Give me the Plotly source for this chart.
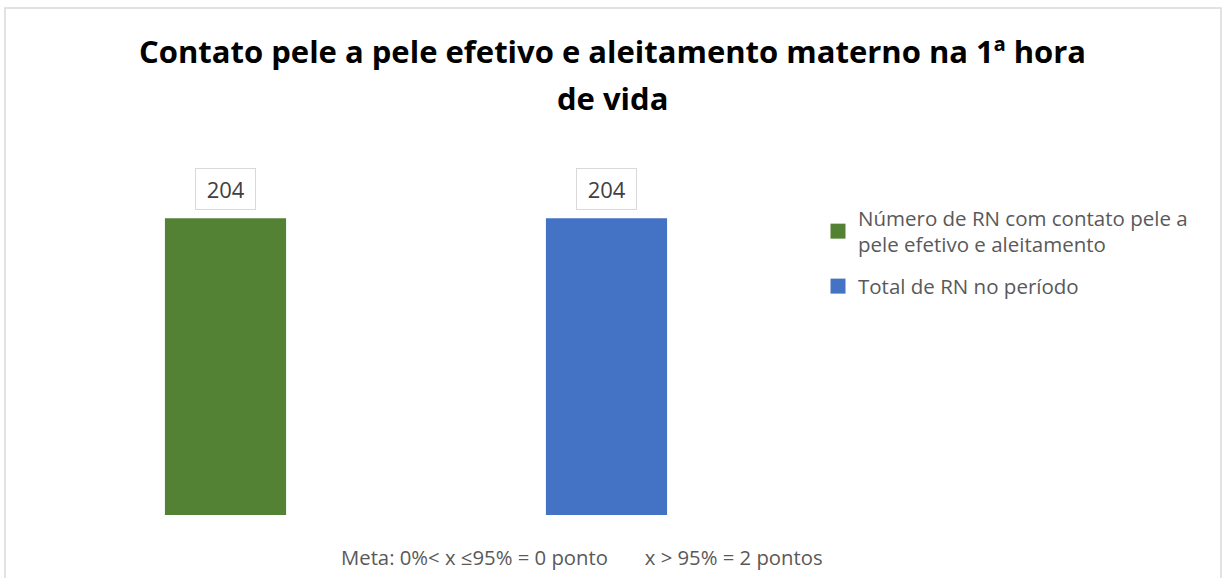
import plotly.graph_objects as go

categories = ["Número de RN com contato pele a<br>pele efetivo e aleitamento", "Total de RN no período"]
values = [204, 204]
colors = ["#548235", "#4472C4"]

title_line1 = "<b>Contato pele a pele efetivo e aleitamento materno na 1ª hora</b>"
title_line2 = "<b>de vida</b>"
footer_text = "Meta: 0%< x ≤95% = 0 ponto" + "&nbsp;" * 7 + "x > 95% = 2 pontos"

W, H = 1224, 578
L, R, T, B = 35, 427, 166, 63
pw, ph = W - L - R, H - T - B
FONT = "Open Sans, sans-serif"

def px(x):
    return (x - L) / pw

def py(y):
    return (H - B - y) / ph

fig = go.Figure()
for i, (name, v, c) in enumerate(zip(categories, values, colors)):
    fig.add_trace(go.Bar(x=[i], y=[v], name=name, marker=dict(color=c, line=dict(width=0)),
                         width=0.318, showlegend=False, hoverinfo="skip"))
    fig.add_trace(go.Scatter(x=[None], y=[None], mode="markers", name=name,
                             legendgroup="g%d" % i,
                             marker=dict(symbol="square", size=15, color=c, line=dict(width=0))))
    fig.add_annotation(x=i, y=v, xref="x", yref="y", text="&nbsp;%d&nbsp;" % v, showarrow=False,
                       yanchor="bottom", yshift=8, bordercolor="#d9d9d9", borderwidth=1,
                       borderpad=5, bgcolor="white",
                       font=dict(family=FONT, size=22, color="#404040"))

fig.add_annotation(x=px(612), y=py(51), xref="paper", yref="paper", text=title_line1,
                   showarrow=False, xanchor="center", yanchor="middle",
                   font=dict(family=FONT, size=31, color="#000000"))
fig.add_annotation(x=px(612), y=py(98), xref="paper", yref="paper", text=title_line2,
                   showarrow=False, xanchor="center", yanchor="middle",
                   font=dict(family=FONT, size=31, color="#000000"))

fig.add_annotation(x=px(582), y=py(557), xref="paper", yref="paper", text=footer_text,
                   showarrow=False, xanchor="center", yanchor="middle",
                   font=dict(family=FONT, size=20.3, color="#595959"))

fig.add_shape(type="rect", xref="paper", yref="paper", x0=px(5), x1=px(1221), y0=py(8), y1=py(600),
              line=dict(color="#d9d9d9", width=1.5), fillcolor="rgba(0,0,0,0)", layer="below")

fig.update_layout(
    width=W, height=H,
    margin=dict(l=L, r=R, t=T, b=B),
    plot_bgcolor="white", paper_bgcolor="white",
    barmode="overlay",
    xaxis=dict(range=[-0.5, 1.5], showticklabels=False, showgrid=False, zeroline=False, showline=False, ticks=""),
    yaxis=dict(range=[0, 240], showticklabels=False, showgrid=False, zeroline=False, showline=False, ticks=""),
    legend=dict(x=px(818), y=py(198), xanchor="left", yanchor="top",
                font=dict(family=FONT, size=20.5, color="#595959"),
                traceorder="grouped", tracegroupgap=12, itemwidth=30,
                bgcolor="rgba(0,0,0,0)"),
    showlegend=True,
)

fig.write_html("out.html", config={"displayModeBar": False},
               post_script="document.body.style.margin='0';")
